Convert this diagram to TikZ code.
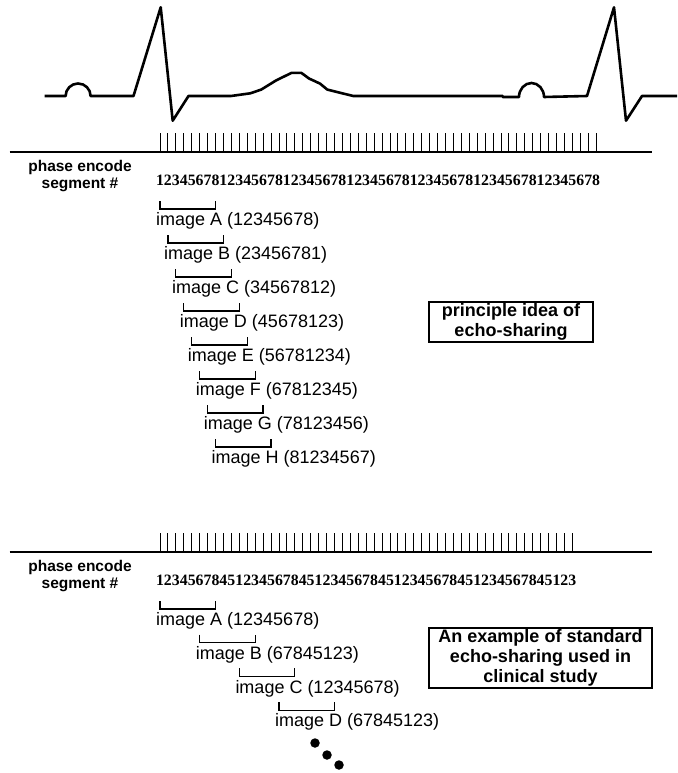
\documentclass[tikz,border=0pt]{standalone}
\usepackage{fontspec}
\setmainfont{Liberation Serif}
\setsansfont{Liberation Sans}
\usetikzlibrary{calc}
\tikzset{
  ecgline/.style={line width=2.6pt, line join=round},
  axisline/.style={line width=2.7pt},
  tickline/.style={line width=0.9pt},
  segbracket/.style={line width=1.2pt},
  seglabel/.style={font=\sffamily\bfseries\fontsize{15.5}{17}\selectfont, align=center, inner sep=0pt},
  segdigit/.style={font=\rmfamily\bfseries\fontsize{15.8}{17}\selectfont, inner sep=0pt},
  imglabel/.style={font=\sffamily\fontsize{18}{20}\selectfont, anchor=west, inner sep=0pt},
  notebox/.style={draw, line width=1.3pt, align=center, inner sep=0pt,
    font=\sffamily\bfseries\fontsize{18}{20}\selectfont},
  seqdot/.style={fill=black, circle, inner sep=0pt, minimum size=9.5pt}
}

\begin{document}
\begin{tikzpicture}[x=1pt, y=-1pt]
  \useasboundingbox (0,0) rectangle (677,773);

  % ECG trace
  \draw[ecgline] (44.5,96) -- (65.6,96) arc[start angle=180, end angle=360, radius=12.5]
    -- (133.5,96) -- (160.7,7.3) -- (172.7,120.7) -- (188.5,96) -- (231,96)
    -- (250.4,93.3) -- (261.2,89.6) -- (276.3,80.3) -- (291.5,72.9) -- (301.4,72.9)
    -- (309,78.5) -- (320,83.6) -- (327.3,89.6) -- (353.2,96)
    -- (502.7,96) -- (502.7,97) -- (519,97) arc[start angle=180, end angle=360, x radius=12.5, y radius=14]
    -- (587,96) -- (614,7.3) -- (626,120.7) -- (642,96) -- (677,96);

  % top: principle idea
  \draw[axisline] (9.5,152) -- (652,152);
  \node[seglabel] (segA) at (80,176) {phase encode\\segment \#};
  \foreach \r in {0,...,6} {
    \foreach \d in {1,...,8} {
      \pgfmathsetmacro{\tx}{160+(\r*8+\d-1)*7.93}
      \draw[tickline] (\tx,133) -- (\tx,152);
      \node[segdigit] (ta\r\d) at (\tx,180) {\d};
    }
  }
  \foreach \lab/\seq [count=\i from 0] in {A/12345678, B/23456781, C/34567812, D/45678123,
      E/56781234, F/67812345, G/78123456, H/81234567} {
    \pgfmathsetmacro{\bx}{160+\i*7.93}
    \pgfmathsetmacro{\by}{221+\i*34}
    \draw[segbracket] (\bx,\by-20) -- (\bx,\by-12) -- (\bx+55.5,\by-12) -- (\bx+55.5,\by-20);
    \node[imglabel] (img\lab) at (\bx-4,\by) {image \lab\ (\seq)};
  }
  \node[notebox, minimum width=164pt, minimum height=40pt] (idea) at (511,322)
    {principle idea of\\echo-sharing};

  % bottom: clinical echo-sharing
  \draw[axisline] (9.5,552) -- (652,552);
  \node[seglabel] (segB) at (80,576) {phase encode\\segment \#};
  \foreach \d [count=\k from 0] in {1,2,3,4,5,6,7,8,4,5,1,2,3,4,5,6,7,8,4,5,1,2,3,4,5,6,7,8,4,5,
      1,2,3,4,5,6,7,8,4,5,1,2,3,4,5,6,7,8,4,5,1,2,3} {
    \pgfmathsetmacro{\tx}{160+\k*7.93}
    \draw[tickline] (\tx,533) -- (\tx,552);
    \node[segdigit] (tb\k) at (\tx,580) {\d};
  }
  \foreach \lab/\seq [count=\i from 0] in {A/12345678, B/67845123, C/12345678, D/67845123} {
    \pgfmathsetmacro{\bx}{160+\i*39.65}
    \pgfmathsetmacro{\by}{621+\i*33.7}
    \draw[segbracket] (\bx,\by-20) -- (\bx,\by-12) -- (\bx+55.5,\by-12) -- (\bx+55.5,\by-20);
    \node[imglabel] (std\lab) at (\bx-4,\by) {image \lab\ (\seq)};
  }
  \node[notebox, minimum width=223pt, minimum height=60pt] (clinic) at (540.5,658)
    {An example of standard\\echo-sharing used in\\clinical study};
  \node[seqdot] (dot1) at (315,743) {};
  \node[seqdot] (dot2) at (327,755) {};
  \node[seqdot] (dot3) at (339,765) {};
\end{tikzpicture}
\end{document}
